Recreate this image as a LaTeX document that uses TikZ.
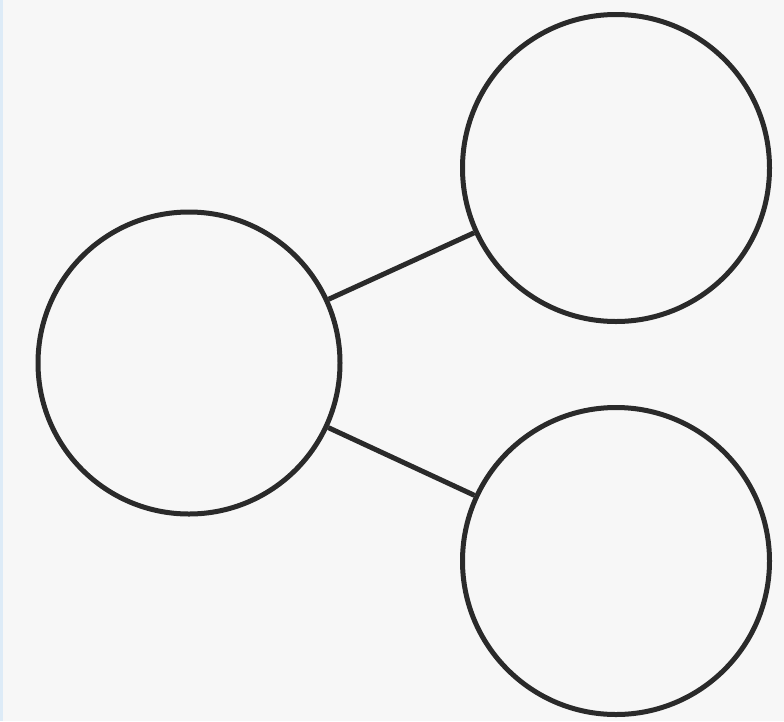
\documentclass[tikz,border=0pt]{standalone}
\definecolor{bgc}{HTML}{F7F7F7}
\definecolor{edgec}{HTML}{DDEBF7}
\definecolor{inkc}{HTML}{2A2A2A}
\tikzset{ring/.style={circle,draw=inkc,line width=5pt,inner sep=0pt},
  link/.style={draw=inkc,line width=5pt}}
\begin{document}
\begin{tikzpicture}[x=1pt,y=-1pt]
\fill[bgc] (0,0) rectangle (784,721);
\fill[edgec] (0,0) rectangle (3,721);
\useasboundingbox (0,0) rectangle (784,721);
\node[ring,minimum size=302pt] (a) at (189,363) {};
\node[ring,minimum size=307pt] (b) at (616,168) {};
\node[ring,minimum size=307pt] (c) at (616,561) {};
\draw[link] (a) -- (b);
\draw[link] (a) -- (c);
\end{tikzpicture}
\end{document}
